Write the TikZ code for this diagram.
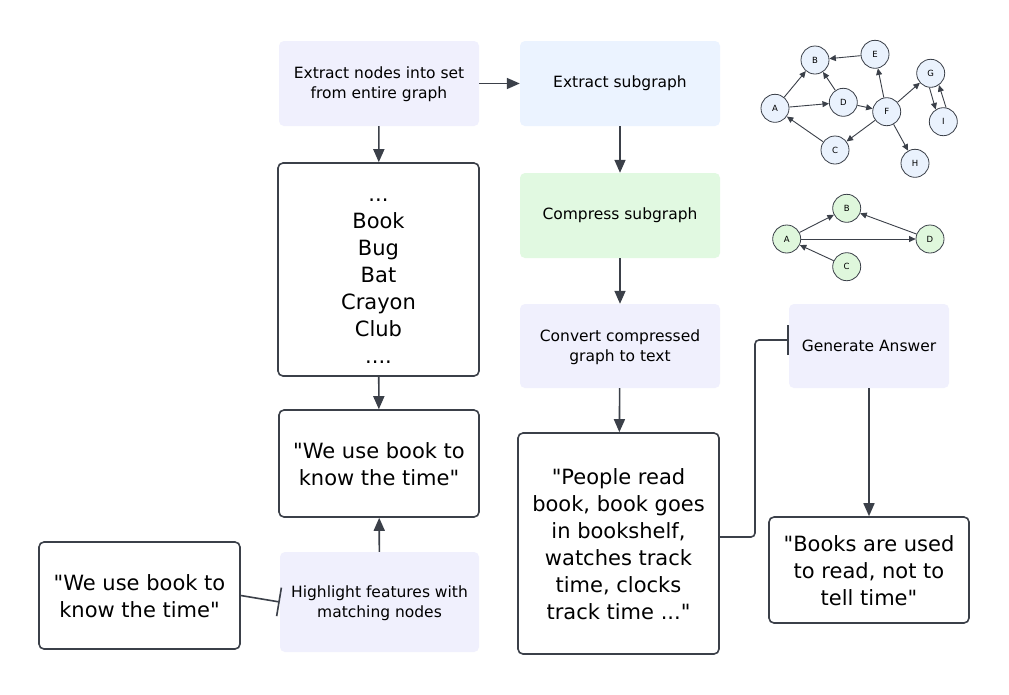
\documentclass[tikz,border=0pt]{standalone}
\usepackage{fontspec}
\setmainfont{DejaVu Sans}
\newfontfamily\df{DejaVu Sans}
\usetikzlibrary{arrows.meta,calc}
\definecolor{dark}{HTML}{3B4049}
\definecolor{lav}{HTML}{F0F0FD}
\definecolor{lblue}{HTML}{EBF3FF}
\definecolor{lgreen}{HTML}{E1F9E1}
\definecolor{gblue}{HTML}{EAF2FD}
\definecolor{ggreen}{HTML}{DFF7DC}
\newcommand\dnshift[2]{\raisebox{-#1}[\height][\depth]{\begin{tabular}{@{}c@{}}#2\end{tabular}}}
\tikzset{
  proc/.style={rectangle, rounded corners=5pt, draw=none, align=center,
    font=\df\fontsize{15.5}{20}\selectfont, inner sep=0pt,
    minimum width=200pt, minimum height=85pt},
  qbox/.style={rectangle, rounded corners=5pt, draw=dark, line width=1.6pt,
    fill=white, align=center, font=\df\fontsize{21}{27}\selectfont, inner sep=0pt},
  arr/.style={draw=dark, line width=1.6pt, -{Triangle[length=13pt,width=11pt]}},
  barline/.style={draw=dark, line width=1.6pt, -{Bar[width=29pt,line width=1.6pt]}},
  conn/.style={draw=dark, line width=1.6pt, rounded corners=4pt},
  gn/.style={circle, draw=dark, line width=0.8pt, minimum size=28pt,
    inner sep=0pt, font=\df\fontsize{8.5}{9}\selectfont},
  gnb/.style={gn, fill=gblue},
  gng/.style={gn, fill=ggreen},
  garr/.style={draw=dark, line width=0.9pt, -{Triangle[length=6.5pt,width=6pt]}}
}
\begin{document}
\begin{tikzpicture}[x=1pt,y=-1pt]
\fill[white] (0,0) rectangle (1009,694);
\useasboundingbox (0,0) rectangle (1009,694);

% process boxes
\node[proc, fill=lav] (ext) at (379,83.5) {\dnshift{1pt}{Extract nodes into set\\from entire graph}};
\node[proc, fill=lblue] (sub) at (620,83.5) {Extract subgraph};
\node[proc, fill=lgreen] (comp) at (620,215.5) {Compress subgraph};
\node[proc, fill=lav, minimum height=84pt] (conv) at (620,346) {\dnshift{1pt}{Convert compressed\\graph to text}};
\node[proc, fill=lav, minimum width=199pt, minimum height=100pt] (hl) at (379.5,602) {\dnshift{1pt}{Highlight features with\\matching nodes}};
\node[proc, fill=lav, minimum width=160pt, minimum height=84pt] (gen) at (869,346) {Generate Answer};

% text boxes
\node[qbox, minimum width=201pt, minimum height=213pt] (list) at (378.5,269.5)
  {\dnshift{8pt}{...\\Book\\Bug\\Bat\\Crayon\\Club\\....}};
\node[qbox, minimum width=200pt, minimum height=107pt] (q1) at (379,463.5)
  {\dnshift{3pt}{"We use book to\\know the time"}};
\node[qbox, minimum width=201pt, minimum height=107pt] (q0) at (139.5,595.5)
  {\dnshift{3pt}{"We use book to\\know the time"}};
\node[qbox, minimum width=201pt, minimum height=221pt] (ppl) at (618.5,543.5)
  {\dnshift{3pt}{"People read\\book, book goes\\in bookshelf,\\watches track\\time, clocks\\track time ..."}};
\node[qbox, minimum width=200pt, minimum height=106pt] (ans) at (869,570)
  {\dnshift{3pt}{"Books are used\\to read, not to\\tell time"}};

% connectors
\draw[arr] (ext) -- (sub);
\draw[arr] (ext) -- (list);
\draw[arr] (sub) -- (comp);
\draw[arr] (comp) -- (conv);
\draw[arr] (list) -- (q1);
\draw[arr] (hl) -- (q1);
\draw[arr] (conv) -- (ppl);
\draw[arr] (gen) -- (ans);
\draw[barline] (q0.east) -- (hl.west);
\coordinate (c1) at (755,537);
\coordinate (c2) at (755,340);
\draw[conn] (ppl.east |- c1) -- (c1) -- (c2) -- ([xshift=-1pt]gen.west |- c2);
\draw[dark, line width=1.6pt] ([xshift=-1pt]gen.west |- 0,325) -- ([xshift=-1pt]gen.west |- 0,355);

% big graph
\node[gnb] (A) at (775,108.3) {A};
\node[gnb] (B) at (815,60) {B};
\node[gnb] (E) at (875,54.3) {E};
\node[gnb] (D) at (843.3,102.3) {D};
\node[gnb] (F) at (886.7,111.7) {F};
\node[gnb] (G) at (930.7,73.3) {G};
\node[gnb] (I) at (943.3,121.7) {I};
\node[gnb] (C) at (835,150) {C};
\node[gnb] (H) at (915,163.3) {H};
\draw[garr] (A) -- (B);
\draw[garr] (A) -- (D);
\draw[garr] (E) -- (B);
\draw[garr] (D) -- (B);
\draw[garr] (D) -- (F);
\draw[garr] (F) -- (E);
\draw[garr] (F) -- (G);
\draw[garr] (F) -- (C);
\draw[garr] (F) -- (H);
\draw[garr] (C) -- (A);
\draw[garr] (G.-95) -- (I.122);
\draw[garr] (I.79) -- (G.-55);

% compressed graph
\node[gng] (A2) at (786.7,239) {A};
\node[gng] (B2) at (846.7,208.3) {B};
\node[gng] (D2) at (930,239) {D};
\node[gng] (C2) at (846.7,266.7) {C};
\draw[garr] (A2) -- (B2);
\draw[garr] (A2) -- (D2);
\draw[garr] (D2) -- (B2);
\draw[garr] (C2) -- (A2);
\end{tikzpicture}
\end{document}
